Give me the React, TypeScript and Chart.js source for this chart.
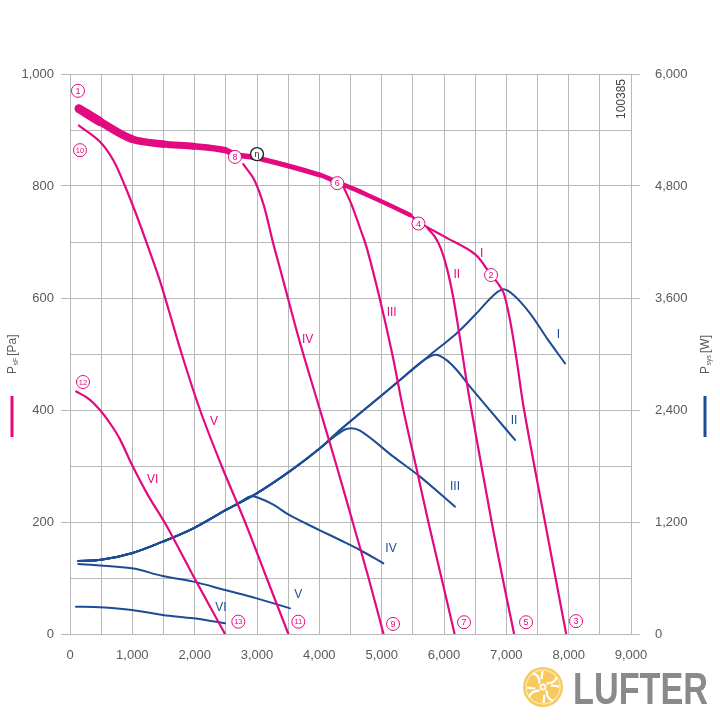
import React, { useEffect, useRef } from 'react';
import { Chart, registerables } from 'chart.js';

Chart.register(...registerables);

// ---------- data (x = volume flow, left y = pressure Pa, right y = power W) ----------
const xTickValues = [0, 1000, 2000, 3000, 4000, 5000, 6000, 7000, 8000, 9000];
const pressureTicks = [0, 200, 400, 600, 800, 1000];
const powerTicks = [0, 1200, 2400, 3600, 4800, 6000];

const pressureI: [number, number][] = [
  [144, 938], [481, 915], [990, 884], [1487, 875], [1985, 871], [2487, 864], [2650, 856],
  [3000, 850], [4000, 820], [4300, 806], [4652, 790], [5455, 748], [5600, 735], [6000, 710],
  [6500, 678], [6755, 641], [6880, 624], [6960, 608], [7060, 560], [7166, 489], [7285, 400],
  [7620, 200], [7960, 0],
];
const pressureII: [number, number][] = [
  [5740, 724], [5850, 710], [5950, 688], [6050, 652], [6150, 600], [6260, 525], [6350, 460],
  [6440, 400], [6765, 200], [6940, 100], [7125, 0],
];
const pressureIII: [number, number][] = [
  [4385, 799], [4520, 766], [4652, 725], [4760, 690], [4967, 600], [5170, 500], [5348, 400],
  [5550, 300], [5749, 200], [5960, 100], [6170, 0],
];
const pressureIV: [number, number][] = [
  [2780, 839], [2960, 810], [3110, 765], [3250, 702], [3400, 640], [3690, 520], [4011, 400],
  [4290, 295], [4535, 200], [4790, 100], [5030, 0],
];
const pressureV: [number, number][] = [
  [144, 908], [481, 879], [695, 846], [882, 800], [1060, 750], [1257, 690], [1430, 635],
  [1580, 580], [1792, 500], [2086, 400], [2433, 300], [2808, 200], [3155, 100], [3503, 0],
];
const pressureVI: [number, number][] = [
  [100, 433], [300, 420], [481, 400], [650, 375], [800, 348], [990, 303], [1250, 248],
  [1551, 193], [2005, 98], [2487, 0],
];

const powerI: [number, number][] = [
  [133, 782], [500, 795], [990, 865], [1487, 989], [1979, 1132], [2503, 1329], [2995, 1507],
  [3530, 1745], [4000, 1985], [4332, 2186], [4652, 2365], [5295, 2721], [5776, 2989],
  [6204, 3222], [6500, 3420], [6780, 3620], [6952, 3693], [7120, 3630], [7380, 3436],
  [7650, 3170], [7941, 2900],
];
const powerII: [number, number][] = [
  [133, 782], [500, 795], [990, 865], [1487, 989], [1979, 1132], [2503, 1329], [2995, 1507],
  [3530, 1745], [4000, 1985], [4332, 2186], [4652, 2365], [5295, 2721], [5620, 2905],
  [5856, 2992], [6030, 2940], [6204, 2829], [6417, 2650], [7140, 2079],
];
const powerIII: [number, number][] = [
  [133, 782], [500, 795], [990, 865], [1487, 989], [1979, 1132], [2503, 1329], [2995, 1507],
  [3530, 1745], [4000, 1985], [4270, 2130], [4450, 2200], [4652, 2178], [5187, 1900],
  [5615, 1686], [6177, 1364],
];
const powerIV: [number, number][] = [
  [133, 782], [500, 795], [990, 865], [1487, 989], [1979, 1132], [2503, 1329], [2750, 1420],
  [2888, 1474], [3010, 1462], [3262, 1385], [3530, 1270], [4000, 1114], [4332, 1007],
  [4652, 900], [5027, 757],
];
const powerV: [number, number][] = [
  [133, 750], [990, 704], [1487, 621], [1979, 561], [2487, 471], [2995, 382], [3530, 275],
];
const powerVI: [number, number][] = [
  [96, 293], [481, 286], [990, 257], [1487, 204], [1985, 168], [2487, 115],
];

// operating point markers [label, x, pressure]
const pointMarkers: [string, number, number][] = [
  ['1', 128, 970], ['10', 160, 864], ['8', 2647, 852], ['6', 4289, 805], ['4', 5590, 733],
  ['2', 6755, 641], ['3', 8118, 23], ['5', 7316, 21], ['7', 6321, 21], ['9', 5182, 18],
  ['11', 3663, 22], ['13', 2700, 22], ['12', 209, 450],
];
const blackMarker: [string, number, number] = ['η', 3000, 857];

const pressureLabels: [string, number, number][] = [
  ['I', 6604, 680], ['II', 6204, 641], ['III', 5160, 574], ['IV', 3813, 526],
  ['V', 2310, 379], ['VI', 1326, 275],
];
const powerLabels: [string, number, number][] = [
  ['I', 7834, 3204], ['II', 7123, 2282], ['III', 6177, 1575], ['IV', 5150, 911],
  ['V', 3663, 418], ['VI', 2423, 286],
];

// ---------- styles ----------
const PINK = '#e3097f';
const BLUE = '#1d4c95';
const GRID = '#b8b8b8';
const TEXT = '#5a5a5a';
const FONT = '"Liberation Sans", Arial, sans-serif';
const bandWidths = [9, 8, 7.5, 7, 6.5, 6, 5.5, 5, 4.8, 4.6, 4.5, 2.4];

const fmt = (v: number) => String(v).replace(/\B(?=(\d{3})+(?!\d))/g, ',');
const pts = (a: [number, number][]) => a.map(([x, y]) => ({ x, y }));

const overlay = {
  id: 'overlay',
  afterDatasetsDraw(chart: any) {
    const ctx: CanvasRenderingContext2D = chart.ctx;
    const xs = chart.scales.x;
    const ys = chart.scales.y;
    const ys2 = chart.scales.y2;
    ctx.save();
    ctx.textAlign = 'center';
    ctx.textBaseline = 'middle';
    ctx.font = `12px ${FONT}`;
    ctx.fillStyle = PINK;
    pressureLabels.forEach(([t, x, y]) => ctx.fillText(t, xs.getPixelForValue(x), ys.getPixelForValue(y)));
    ctx.fillStyle = BLUE;
    powerLabels.forEach(([t, x, y]) => ctx.fillText(t, xs.getPixelForValue(x), ys2.getPixelForValue(y)));
    const circ = (t: string, x: number, y: number, col: string, lw: number) => {
      const px = xs.getPixelForValue(x);
      const py = ys.getPixelForValue(y);
      ctx.beginPath();
      ctx.arc(px, py, 6.5, 0, Math.PI * 2);
      ctx.fillStyle = '#ffffff';
      ctx.fill();
      ctx.lineWidth = lw;
      ctx.strokeStyle = col;
      ctx.stroke();
      ctx.fillStyle = col;
      ctx.font = `${t.length > 1 ? 7.5 : 9}px ${FONT}`;
      ctx.fillText(t, px, py + 0.5);
    };
    pointMarkers.forEach(([t, x, y]) => circ(t, x, y, PINK, 1));
    circ(blackMarker[0], blackMarker[1], blackMarker[2], '#222', 1.4);
    ctx.restore();
  },
  afterDraw(chart: any) {
    const ctx: CanvasRenderingContext2D = chart.ctx;
    ctx.save();
    const title = (x: number, y: number, sub: string, unit: string) => {
      ctx.save();
      ctx.translate(x, y);
      ctx.rotate(-Math.PI / 2);
      ctx.fillStyle = TEXT;
      ctx.textAlign = 'left';
      ctx.textBaseline = 'middle';
      ctx.font = `12px ${FONT}`;
      ctx.fillText('P', 0, 0);
      let w = ctx.measureText('P').width;
      ctx.font = `7px ${FONT}`;
      ctx.fillText(sub, w + 0.5, 3.5);
      w += ctx.measureText(sub).width + 2.5;
      ctx.font = `12px ${FONT}`;
      ctx.fillText(unit, w, 0);
      ctx.restore();
    };
    title(13, 374, 'sF', '[Pa]');
    title(706, 374, 'sys', '[W]');
    ctx.fillStyle = PINK;
    ctx.fillRect(10.5, 396, 3, 41);
    ctx.fillStyle = BLUE;
    ctx.fillRect(703.5, 396, 3, 41);
    ctx.save();
    ctx.translate(622, 99);
    ctx.rotate(-Math.PI / 2);
    ctx.fillStyle = '#444';
    ctx.font = `12px ${FONT}`;
    ctx.textAlign = 'center';
    ctx.textBaseline = 'middle';
    ctx.fillText('100385', 0, 0);
    ctx.restore();
    // logo
    const cx = 543, cy = 687;
    ctx.beginPath();
    ctx.arc(cx, cy, 20, 0, Math.PI * 2);
    ctx.fillStyle = '#f8c95e';
    ctx.fill();
    ctx.beginPath();
    ctx.arc(cx, cy, 17, 0, Math.PI * 2);
    ctx.strokeStyle = '#fde4a6';
    ctx.lineWidth = 1.5;
    ctx.stroke();
    ctx.strokeStyle = '#ffffff';
    ctx.lineWidth = 2.2;
    for (let i = 0; i < 4; i++) {
      const a = (Math.PI / 2) * i + Math.PI / 4;
      ctx.beginPath();
      ctx.moveTo(cx + Math.cos(a) * 5, cy + Math.sin(a) * 5);
      ctx.quadraticCurveTo(
        cx + Math.cos(a + 0.5) * 13, cy + Math.sin(a + 0.5) * 13,
        cx + Math.cos(a + 0.15) * 17, cy + Math.sin(a + 0.15) * 17,
      );
      ctx.stroke();
      ctx.beginPath();
      ctx.moveTo(cx + Math.cos(a + 0.6) * 8, cy + Math.sin(a + 0.6) * 8);
      ctx.lineTo(cx + Math.cos(a + 0.75) * 16, cy + Math.sin(a + 0.75) * 16);
      ctx.stroke();
    }
    ctx.beginPath();
    ctx.arc(cx, cy, 3.5, 0, Math.PI * 2);
    ctx.fillStyle = '#ffffff';
    ctx.fill();
    ctx.beginPath();
    ctx.arc(cx, cy, 1.6, 0, Math.PI * 2);
    ctx.fillStyle = '#f8c95e';
    ctx.fill();
    ctx.font = `bold 44px ${FONT}`;
    ctx.textAlign = 'left';
    ctx.textBaseline = 'alphabetic';
    const tw = ctx.measureText('LUFTER').width;
    ctx.translate(573, 704);
    ctx.scale(135 / tw, 1);
    ctx.fillStyle = '#8a8a8a';
    ctx.fillText('LUFTER', 0, 0);
    ctx.restore();
  },
};

export default function App() {
  const ref = useRef<HTMLCanvasElement | null>(null);
  useEffect(() => {
    if (!ref.current) return;
    const common = { pointRadius: 0, fill: false, tension: 0.35, borderCapStyle: 'round' as const, borderJoinStyle: 'round' as const };
    const pink = (d: [number, number][]) => ({ ...common, data: pts(d), borderColor: PINK, borderWidth: 2.2, yAxisID: 'y' });
    const blue = (d: [number, number][]) => ({ ...common, data: pts(d), borderColor: BLUE, borderWidth: 2, yAxisID: 'y2' });
    const chart = new Chart(ref.current, {
      type: 'line',
      data: {
        datasets: [
          {
            ...pink(pressureI),
            segment: { borderWidth: (c: any) => (c.p0DataIndex < bandWidths.length ? bandWidths[c.p0DataIndex] : 2.2) },
          } as any,
          pink(pressureII), pink(pressureIII), pink(pressureIV), pink(pressureV), pink(pressureVI),
          blue(powerI), blue(powerII), blue(powerIII), blue(powerIV), blue(powerV), blue(powerVI),
        ],
      },
      options: {
        animation: false,
        responsive: false,
        parsing: false as any,
        layout: { padding: { top: 74, left: 0, right: 0, bottom: 0 } },
        plugins: { legend: { display: false }, tooltip: { enabled: false } },
        scales: {
          x: {
            type: 'linear', min: 0, max: 9000,
            ticks: {
              stepSize: 500, autoSkip: false, maxRotation: 0, padding: 14, color: TEXT,
              font: { size: 13, family: FONT },
              callback: (v: any) => (xTickValues.includes(Number(v)) ? fmt(Number(v)) : ''),
            },
            grid: { color: GRID, drawTicks: false, lineWidth: 1 },
            border: { color: GRID },
            afterFit: (s: any) => { s.height = 86; },
          },
          y: {
            type: 'linear', position: 'left', min: 0, max: 1000,
            ticks: {
              stepSize: 100, autoSkip: false, padding: 7, color: TEXT,
              font: { size: 13, family: FONT },
              callback: (v: any) => (pressureTicks.includes(Number(v)) ? fmt(Number(v)) : ''),
            },
            grid: {
              color: GRID, tickLength: 9, lineWidth: 1,
              tickColor: (c: any) => (c.tick && pressureTicks.includes(c.tick.value) ? GRID : 'rgba(0,0,0,0)'),
            },
            border: { color: GRID },
            afterFit: (s: any) => { s.width = 70; },
          },
          y2: {
            type: 'linear', position: 'right', min: 0, max: 6000,
            ticks: {
              stepSize: 1200, autoSkip: false, padding: 15, color: TEXT,
              font: { size: 13, family: FONT },
              callback: (v: any) => (powerTicks.includes(Number(v)) ? fmt(Number(v)) : ''),
            },
            grid: { color: GRID, drawOnChartArea: false, tickLength: 9, lineWidth: 1 },
            border: { color: GRID },
            afterFit: (s: any) => { s.width = 89; },
          },
        },
      } as any,
      plugins: [overlay],
    });
    return () => chart.destroy();
  }, []);
  return (
    <div style={{ position: 'absolute', left: 0, top: 0, width: 720, height: 720, background: '#fff' }}>
      <canvas ref={ref} width={720} height={720} style={{ display: 'block' }} />
    </div>
  );
}
